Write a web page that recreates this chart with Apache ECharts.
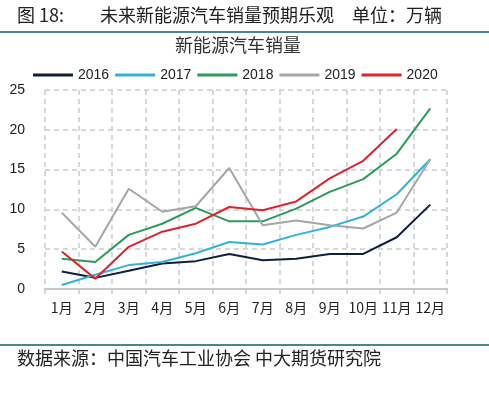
<!DOCTYPE html>
<html>
<head>
<meta charset="utf-8">
<script src="https://cdn.jsdelivr.net/npm/echarts@6/dist/echarts.min.js"></script>
<style>
html,body{margin:0;padding:0;background:#fff;}
#c{width:489px;height:395px;}
</style>
</head>
<body>
<div id="c"></div>
<script>
var months = ['1月','2月','3月','4月','5月','6月','7月','8月','9月','10月','11月','12月'];
var s2016 = [2.2, 1.4, 2.3, 3.2, 3.5, 4.4, 3.6, 3.8, 4.4, 4.4, 6.5, 10.6];
var s2017 = [0.5, 1.8, 3.0, 3.4, 4.5, 5.9, 5.6, 6.8, 7.8, 9.1, 11.9, 16.3];
var s2018 = [3.8, 3.4, 6.8, 8.2, 10.2, 8.5, 8.5, 10.1, 12.2, 13.8, 17.0, 22.7];
var s2019 = [9.6, 5.3, 12.6, 9.7, 10.4, 15.2, 8.0, 8.6, 8.0, 7.6, 9.6, 16.3];
var s2020 = [4.7, 1.3, 5.3, 7.2, 8.2, 10.3, 9.9, 11.0, 13.9, 16.1, 20.1, null];
var seriesNames = ['2016','2017','2018','2019','2020'];
var seriesColors = ['#101f3f','#2fb4d8','#2a9d5c','#a6a6a6','#d9252b'];
var seriesData = [s2016, s2017, s2018, s2019, s2020];

var cjk = '"Noto Sans CJK SC", sans-serif';
var chart = echarts.init(document.getElementById('c'), null, {renderer:'canvas'});
var option = {
  backgroundColor: '#fff',
  animation: false,
  graphic: [
    {type:'text', left:17, top:6, style:{text:'图 18:', font:'18px ' + cjk, fill:'#222'}},
    {type:'text', left:100, top:6, style:{text:'未来新能源汽车销量预期乐观', font:'18px ' + cjk, fill:'#222'}},
    {type:'text', left:352, top:6, style:{text:'单位：万辆', font:'18px ' + cjk, fill:'#222'}},
    {type:'rect', shape:{x:0, y:31, width:489, height:2}, style:{fill:'#4d8394'}},
    {type:'text', left:175, top:36, style:{text:'新能源汽车销量', font:'18px ' + cjk, fill:'#333'}},
    {type:'rect', shape:{x:0, y:344, width:489, height:2}, style:{fill:'#4d8394'}},
    {type:'text', left:17, top:349, style:{text:'数据来源：中国汽车工业协会 中大期货研究院', font:'18px ' + cjk, fill:'#222'}}
  ],
  legend: {
    left: 28, top: 63,
    itemWidth: 40, itemHeight: 3, itemGap: 6,
    icon: 'rect',
    textStyle: {fontSize: 14, color: '#222', fontFamily: 'Liberation Sans'},
    data: seriesNames
  },
  grid: {left: 45, right: 42, top: 90, bottom: 106, containLabel: false},
  xAxis: {
    type: 'category',
    data: months,
    boundaryGap: true,
    axisLine: {show: true, lineStyle: {color: '#c8c8c8', width: 2}},
    axisTick: {show: true, length: 5, lineStyle: {color: '#c8c8c8', width: 1.5}},
    axisLabel: {color: '#222', fontSize: 14, margin: 12, fontFamily: cjk, interval: 0},
    splitLine: {show: true, interval: 0, lineStyle: {color: '#cccccc', type: [5, 4], width: 1.5}}
  },
  yAxis: {
    type: 'value',
    min: 0, max: 25, interval: 5,
    axisLine: {show: false},
    axisTick: {show: false},
    axisLabel: {color: '#222', fontSize: 14, margin: 20, fontFamily: 'Liberation Sans'},
    splitLine: {show: true, lineStyle: {color: '#cccccc', type: [5, 4], width: 1.5}}
  },
  series: seriesNames.map(function(n, i){
    return {
      name: n, type: 'line', data: seriesData[i],
      showSymbol: false, symbol: 'none',
      itemStyle: {color: seriesColors[i]},
      lineStyle: {color: seriesColors[i], width: 2}
    };
  })
};
chart.setOption(option);
</script>
</body>
</html>
